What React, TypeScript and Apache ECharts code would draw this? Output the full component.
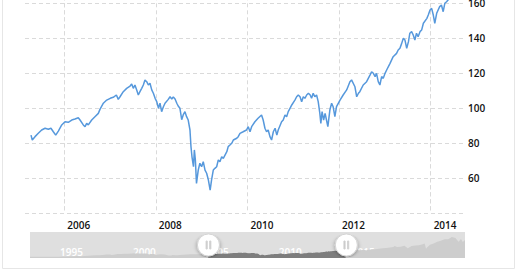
import React, { useEffect, useRef } from 'react';
import * as echarts from 'echarts';

// SPY (dividend-adjusted) — coarse history before the zoom window (navigator only)
const earlyPrices: [string, number][] = [
  ['1993-01-29', 25.5], ['1993-04-30', 25.5], ['1993-07-30', 26.0], ['1993-10-29', 27.1],
  ['1994-01-31', 28.7], ['1994-04-29', 26.9], ['1994-07-29', 27.3], ['1994-10-31', 28.1],
  ['1995-01-31', 28.7], ['1995-04-28', 31.4], ['1995-07-31', 34.3], ['1995-10-31', 35.5],
  ['1996-01-31', 39.8], ['1996-04-30', 40.8], ['1996-07-31', 40.1], ['1996-10-31', 43.9],
  ['1997-01-31', 50.3], ['1997-04-30', 51.5], ['1997-07-31', 60.9], ['1997-10-31', 58.5],
  ['1998-01-30', 64.1], ['1998-04-30', 73.0], ['1998-07-31', 73.4], ['1998-08-31', 62.6], ['1998-10-30', 71.4],
  ['1999-01-29', 85.1], ['1999-04-30', 88.8], ['1999-07-30', 90.4], ['1999-10-29', 92.7],
  ['2000-01-31', 94.6], ['2000-03-24', 103.7], ['2000-04-28', 98.4], ['2000-07-31', 97.5], ['2000-10-31', 97.0],
  ['2001-01-31', 94.7], ['2001-04-04', 75.9], ['2001-04-30', 86.4], ['2001-07-31', 83.8], ['2001-09-21', 65.1], ['2001-10-31', 73.1],
  ['2002-01-31', 79.2], ['2002-04-30', 75.5], ['2002-07-23', 55.9], ['2002-07-31', 63.8], ['2002-10-09', 54.0], ['2002-10-31', 62.0],
  ['2003-01-31', 61.0], ['2003-03-11', 57.1], ['2003-04-30', 65.4], ['2003-07-31', 70.8], ['2003-10-31', 75.2],
  ['2004-01-30', 82.2], ['2004-04-30', 80.3], ['2004-07-30', 80.6], ['2004-10-29', 82.3],
  ['2005-01-31', 87.5],
];

// Detailed prices inside the visible window
const windowPrices: [string, number][] = [
  ['2005-04-10', 84.7], ['2005-04-20', 81.9], ['2005-05-12', 83.8], ['2005-06-07', 85.7], ['2005-07-04', 87.6],
  ['2005-07-31', 88.6], ['2005-08-26', 88.0], ['2005-09-16', 88.6], ['2005-10-05', 86.6], ['2005-10-24', 84.7],
  ['2005-11-14', 87.0], ['2005-12-11', 90.5], ['2006-01-06', 92.3], ['2006-02-01', 92.0], ['2006-03-01', 93.3],
  ['2006-03-27', 93.9], ['2006-04-22', 94.6], ['2006-05-06', 93.3], ['2006-06-01', 90.5], ['2006-06-15', 89.5],
  ['2006-06-28', 91.4], ['2006-07-11', 90.5], ['2006-08-07', 93.3], ['2006-09-02', 95.2], ['2006-09-29', 97.1],
  ['2006-10-12', 99.4], ['2006-11-08', 102.9], ['2006-12-05', 104.7], ['2007-01-02', 105.7], ['2007-01-26', 106.3],
  ['2007-02-20', 107.6], ['2007-03-07', 105.1], ['2007-03-21', 106.6], ['2007-04-16', 109.5], ['2007-05-13', 111.4],
  ['2007-06-09', 112.7], ['2007-06-22', 113.9], ['2007-07-05', 111.4], ['2007-07-18', 113.3], ['2007-08-01', 110.5],
  ['2007-08-14', 107.6], ['2007-08-27', 109.5], ['2007-09-10', 111.4], ['2007-09-23', 113.3], ['2007-10-06', 116.2],
  ['2007-10-20', 115.2], ['2007-11-02', 113.3], ['2007-11-15', 114.3], ['2007-11-29', 110.5], ['2007-12-12', 108.6],
  ['2007-12-26', 105.7], ['2008-01-08', 103.8], ['2008-01-22', 100.0], ['2008-02-03', 102.9], ['2008-02-16', 98.1],
  ['2008-03-01', 100.9], ['2008-03-14', 102.9], ['2008-04-09', 105.1], ['2008-04-23', 106.6], ['2008-05-07', 105.3],
  ['2008-05-19', 106.5], ['2008-06-02', 105.3], ['2008-06-16', 102.9], ['2008-06-27', 101.3], ['2008-07-11', 100.0],
  ['2008-07-25', 93.5], ['2008-08-06', 96.2], ['2008-08-20', 98.1], ['2008-09-02', 95.2], ['2008-09-15', 93.3],
  ['2008-09-29', 87.6], ['2008-10-07', 78.1], ['2008-10-15', 72.3], ['2008-10-27', 66.6], ['2008-11-03', 76.2],
  ['2008-11-11', 70.5], ['2008-11-20', 57.1], ['2008-12-04', 64.7], ['2008-12-17', 68.6], ['2008-12-31', 66.6],
  ['2009-01-13', 69.5], ['2009-01-27', 64.7], ['2009-02-09', 62.9], ['2009-02-23', 59.0], ['2009-03-09', 53.3],
  ['2009-03-20', 59.0], ['2009-04-03', 64.7], ['2009-04-16', 65.7], ['2009-04-30', 66.6], ['2009-05-13', 70.5],
  ['2009-05-26', 69.5], ['2009-06-09', 72.3], ['2009-06-22', 71.4], ['2009-07-20', 75.2], ['2009-07-31', 78.1],
  ['2009-08-14', 79.0], ['2009-08-28', 80.0], ['2009-09-10', 81.9], ['2009-10-07', 82.9], ['2009-10-19', 83.8],
  ['2009-11-02', 85.7], ['2009-11-27', 86.6], ['2009-12-24', 87.6], ['2010-01-07', 89.5], ['2010-01-21', 86.6],
  ['2010-02-03', 89.5], ['2010-03-01', 92.3], ['2010-03-26', 94.3], ['2010-04-23', 96.2], ['2010-05-06', 93.3],
  ['2010-05-20', 88.6], ['2010-06-02', 86.6], ['2010-06-15', 87.6], ['2010-06-29', 83.8], ['2010-07-12', 81.9],
  ['2010-07-26', 86.6], ['2010-08-09', 88.6], ['2010-08-23', 84.7], ['2010-09-03', 87.6], ['2010-09-30', 92.3],
  ['2010-10-13', 93.3], ['2010-10-27', 96.2], ['2010-11-09', 95.2], ['2010-11-22', 98.1], ['2010-12-06', 100.0],
  ['2010-12-20', 101.9], ['2011-01-14', 104.7], ['2011-01-28', 106.6], ['2011-02-10', 107.6], ['2011-02-24', 106.6],
  ['2011-03-09', 103.8], ['2011-03-22', 106.6], ['2011-04-04', 105.7], ['2011-04-18', 107.6], ['2011-05-02', 108.6],
  ['2011-05-16', 107.6], ['2011-05-27', 105.7], ['2011-06-09', 108.6], ['2011-06-22', 106.6], ['2011-07-06', 107.6],
  ['2011-07-19', 103.8], ['2011-08-01', 97.1], ['2011-08-09', 91.4], ['2011-08-19', 98.1], ['2011-08-31', 93.3],
  ['2011-09-12', 97.1], ['2011-09-23', 93.3], ['2011-10-04', 89.5], ['2011-10-20', 99.0], ['2011-11-03', 102.9],
  ['2011-11-15', 100.9], ['2011-11-29', 95.2], ['2011-12-12', 100.9], ['2012-01-09', 104.7], ['2012-02-03', 107.6],
  ['2012-03-02', 110.5], ['2012-03-28', 115.2], ['2012-04-10', 116.2], ['2012-05-07', 112.3], ['2012-05-21', 106.6],
  ['2012-06-04', 108.6], ['2012-06-15', 109.5], ['2012-07-12', 113.3], ['2012-08-08', 115.2], ['2012-09-04', 119.0],
  ['2012-09-17', 120.9], ['2012-10-01', 120.0], ['2012-10-15', 118.1], ['2012-10-26', 120.0], ['2012-11-09', 115.2],
  ['2012-11-22', 113.3], ['2012-12-06', 118.1], ['2012-12-19', 117.1], ['2013-01-02', 120.0], ['2013-01-15', 121.9],
  ['2013-02-11', 125.7], ['2013-03-08', 129.5], ['2013-04-04', 131.4], ['2013-04-17', 133.3], ['2013-05-01', 134.3],
  ['2013-05-15', 137.1], ['2013-05-28', 140.0], ['2013-06-10', 139.0], ['2013-06-24', 134.3], ['2013-07-08', 138.1],
  ['2013-07-19', 142.9], ['2013-08-02', 143.8], ['2013-08-15', 141.9], ['2013-08-28', 139.0], ['2013-09-10', 142.9],
  ['2013-09-23', 140.9], ['2013-10-08', 143.8], ['2013-10-21', 144.7], ['2013-11-04', 148.6], ['2013-12-02', 151.4],
  ['2013-12-13', 153.3], ['2013-12-27', 156.2], ['2014-01-09', 157.1], ['2014-01-22', 153.3], ['2014-02-03', 148.6],
  ['2014-02-18', 154.3], ['2014-03-14', 158.1], ['2014-03-28', 159.0], ['2014-04-11', 155.2], ['2014-04-24', 160.0],
  ['2014-05-08', 160.9], ['2014-05-20', 161.9], ['2014-06-09', 164.5], ['2014-07-03', 166.8], ['2014-07-24', 167.2],
  ['2014-08-07', 163.8], ['2014-08-29', 169.0], ['2014-09-18', 170.4],
];

// Coarse history after the window (navigator only)
const latePrices: [string, number][] = [
  ['2014-10-15', 158.5], ['2014-12-31', 176.6],
  ['2015-03-31', 177.0], ['2015-06-30', 178.0], ['2015-08-25', 162.0], ['2015-09-30', 166.0], ['2015-12-31', 177.4],
  ['2016-02-11', 159.0], ['2016-03-31', 179.5], ['2016-06-30', 184.0], ['2016-09-30', 190.5], ['2016-12-30', 197.7],
  ['2017-03-31', 210.0], ['2017-06-30', 215.5], ['2017-09-29', 224.5], ['2017-12-29', 239.5],
  ['2018-01-26', 257.5], ['2018-03-29', 236.9], ['2018-06-29', 245.0], ['2018-09-28', 263.0], ['2018-12-24', 212.5],
  ['2019-03-29', 257.5], ['2019-06-28', 268.0], ['2019-09-30', 272.0], ['2019-12-31', 296.0],
  ['2020-02-19', 311.5], ['2020-03-23', 205.5], ['2020-06-30', 285.5], ['2020-09-30', 311.0], ['2020-12-31', 348.5],
  ['2021-03-31', 373.0], ['2021-06-30', 403.0], ['2021-09-30', 405.0], ['2021-12-31', 450.0],
  ['2022-01-03', 453.0], ['2022-03-31', 430.0], ['2022-06-16', 350.0], ['2022-06-30', 360.0], ['2022-08-16', 411.0],
  ['2022-09-30', 343.0], ['2022-10-12', 342.0], ['2022-11-25', 387.0],
];

const windowStart = '2005-02-21';
const windowEnd = '2014-09-24';
const mainTickYears = ['2006', '2008', '2010', '2012', '2014'];
const navTickYears = ['1995', '2000', '2005', '2010', '2015', '2020'];
const yTickLabels = [60, 80, 100, 120, 140, 160];

const ts = (s: string) => new Date(s + 'T00:00:00').getTime();

const HANDLE =
  'path://M11,0 A11,11 0 1,1 11,22 A11,11 0 1,1 11,0 Z M8.6,7 L8.6,15 L9.8,15 L9.8,7 Z M12.2,7 L12.2,15 L13.4,15 L13.4,7 Z';

export default function App() {
  const ref = useRef<HTMLDivElement>(null);
  useEffect(() => {
    if (!ref.current) return;
    const chart = echarts.init(ref.current, undefined, { renderer: 'svg' });
    const all = [...earlyPrices, ...windowPrices, ...latePrices];
    const s0 = ts(windowStart);
    const s1 = ts(windowEnd);
    const allData = all.map(([d, v]) => [ts(d), v]);
    const selData = allData.filter(([t]) => t >= s0 && t <= s1);
    const font = 'Open Sans';
    const labelColor = '#111';
    const gridLine = { show: true, lineStyle: { color: '#dadada', type: [4, 3] as any, width: 1 } };

    chart.setOption({
      animation: false,
      backgroundColor: '#fff',
      textStyle: { fontFamily: font },
      grid: [
        { left: 25, right: 56, top: -31.7, bottom: 58.7, outerBoundsMode: 'none', containLabel: false },
        {
          left: 30, right: 55, top: 232, height: 26, show: true, backgroundColor: '#dfdfdf',
          borderWidth: 0, outerBoundsMode: 'none', containLabel: false,
        },
      ],
      xAxis: [
        {
          type: 'time', gridIndex: 0,
          axisLine: { show: false },
          axisTick: { show: false, customValues: mainTickYears.map((y) => ts(y + '-01-01')) },
          splitLine: gridLine,
          axisLabel: {
            customValues: mainTickYears.map((y) => ts(y + '-01-01')),
            formatter: '{yyyy}', color: labelColor, fontSize: 10, fontWeight: 600, fontFamily: font,
            align: 'left', padding: [0, 0, 0, 3], margin: 7,
          },
        },
        {
          type: 'time', gridIndex: 1,
          min: allData[0][0], max: allData[allData.length - 1][0],
          axisLine: { show: false },
          axisTick: { show: false, customValues: navTickYears.map((y) => ts(y + '-01-01')) },
          splitLine: { show: false },
          axisLabel: {
            inside: true, customValues: navTickYears.map((y) => ts(y + '-01-01')),
            formatter: '{yyyy}', color: '#ffffff', fontSize: 10, fontWeight: 600, fontFamily: font,
            align: 'left', padding: [0, 0, 0, 2], margin: 1,
          },
        },
      ],
      yAxis: [
        {
          type: 'value', gridIndex: 0, position: 'right', min: 40, max: 180, interval: 20,
          axisLine: { show: false }, axisTick: { show: false },
          splitLine: gridLine,
          axisLabel: {
            margin: 4, color: labelColor, fontSize: 10, fontWeight: 600, fontFamily: font,
            formatter: (v: number) => (yTickLabels.includes(v) ? String(v) : ''),
          },
        },
        { type: 'value', gridIndex: 1, min: 0, max: 560, show: false },
      ],
      dataZoom: [
        {
          type: 'slider', xAxisIndex: 0, filterMode: 'filter',
          startValue: s0, endValue: s1,
          left: 30, right: 55, top: 232, height: 26,
          showDataShadow: false, showDetail: false, brushSelect: false, moveHandleSize: 0,
          backgroundColor: 'rgba(0,0,0,0)', borderColor: 'rgba(0,0,0,0)', fillerColor: 'rgba(0,0,0,0)',
          handleIcon: HANDLE, handleSize: '85%',
          handleStyle: {
            color: '#ffffff', borderColor: '#d4d4d4', borderWidth: 1,
            shadowBlur: 4, shadowColor: 'rgba(0,0,0,0.3)', shadowOffsetY: 1,
          },
          textStyle: { color: 'rgba(0,0,0,0)' },
        },
      ],
      graphic: [
        {
          type: 'rect', silent: true, z: 100,
          shape: { x: 2.5, y: -5, width: 512, height: 273.5 },
          style: { fill: 'none', stroke: '#e6e6e6', lineWidth: 1 },
        },
      ],
      series: [
        {
          type: 'line', name: 'SPY', xAxisIndex: 0, yAxisIndex: 0, data: allData,
          showSymbol: false, symbol: 'none', z: 3,
          lineStyle: { color: '#5698dc', width: 1.5 },
        },
        {
          type: 'line', xAxisIndex: 1, yAxisIndex: 1, data: allData, silent: true,
          showSymbol: false, symbol: 'none', lineStyle: { width: 0 },
          areaStyle: { color: '#cdcdcd', opacity: 1 },
        },
        {
          type: 'line', xAxisIndex: 1, yAxisIndex: 1, data: selData, silent: true,
          showSymbol: false, symbol: 'none', lineStyle: { width: 0 },
          areaStyle: { color: '#7d7d7d', opacity: 1 },
        },
      ],
    });
    return () => chart.dispose();
  }, []);
  return <div ref={ref} style={{ position: 'absolute', left: 0, top: 0, width: 520, height: 272 }} />;
}
